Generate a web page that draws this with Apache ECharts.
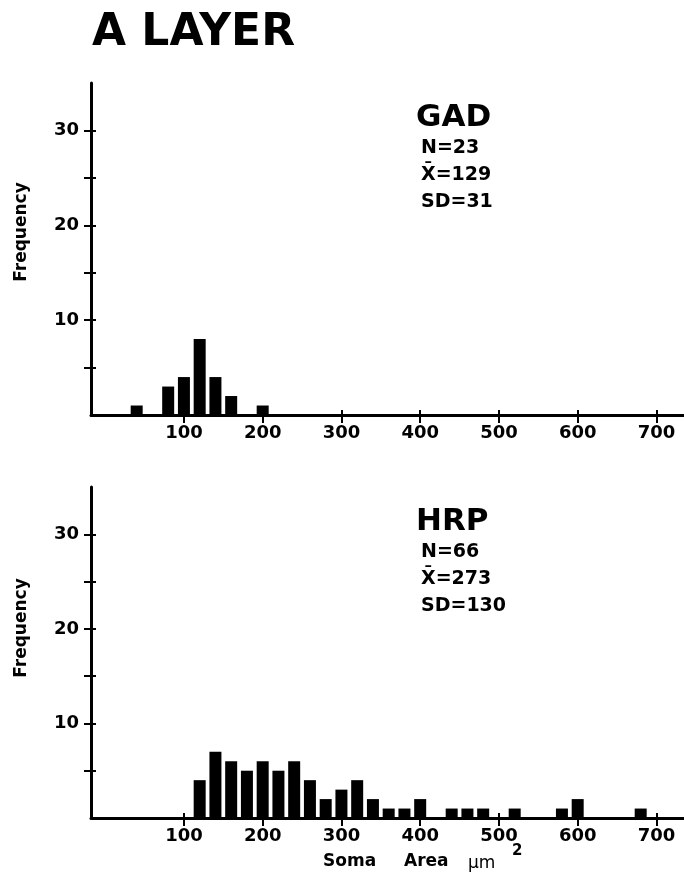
<!DOCTYPE html>
<html>
<head>
<meta charset="utf-8">
<script src="https://cdn.jsdelivr.net/npm/echarts@6/dist/echarts.min.js"></script>
<style>
  html, body { margin: 0; padding: 0; background: #fff; }
  #chart { width: 684px; height: 881px; }
</style>
</head>
<body>
<div id="chart"></div>
<script>
// bin centres (soma area, um^2) and counts
const gadBins   = [40, 80, 100, 120, 140, 160, 200];
const gadCounts = [1, 3, 4, 8, 4, 2, 1];
const hrpBins   = [120, 140, 160, 180, 200, 220, 240, 260, 280, 300, 320, 340, 360, 380, 400, 440, 460, 480, 520, 580, 600, 680];
const hrpCounts = [4, 7, 6, 5, 6, 5, 6, 4, 2, 3, 4, 2, 1, 1, 2, 1, 1, 1, 1, 1, 2, 1];

const xTicks  = [100, 200, 300, 400, 500, 600, 700];
const yTicks  = [5, 10, 15, 20, 25, 30];
const yLabels = [10, 20, 30];

const gadStats = ['N=23', 'X\u0304=129', 'SD=31'];
const hrpStats = ['N=66', 'X\u0304=273', 'SD=130'];

const FONT = 'DejaVu Sans';
const BLACK = '#000';

let chart = echarts.init(document.getElementById('chart'));

// each panel gets two x and two y axes: one draws ticks outward, the other inward,
// so the tick marks cross the axis line like in the original figure
function panelAxes(g) {
  let xs = [
    {
      type: 'value', gridIndex: g, position: 'bottom', min: -18, max: 735,
      axisLine: {onZero: false, lineStyle: {color: BLACK, width: 3}},
      axisTick: {customValues: xTicks, length: 8, lineStyle: {color: BLACK, width: 2}},
      axisLabel: {customValues: xTicks, color: BLACK, fontFamily: FONT, fontWeight: 'bold', fontSize: 18, margin: 9},
      splitLine: {show: false}
    },
    {
      type: 'value', gridIndex: g, position: 'bottom', min: -18, max: 735,
      axisLine: {show: false, onZero: false},
      axisTick: {show: true, customValues: xTicks, inside: true, length: 5, lineStyle: {color: BLACK, width: 2}},
      axisLabel: {show: false},
      splitLine: {show: false}
    }
  ];
  let ys = [
    {
      type: 'value', gridIndex: g, position: 'left', min: 0, max: 35,
      axisLine: {show: true, onZero: false, lineStyle: {color: BLACK, width: 3}},
      axisTick: {show: true, customValues: yTicks, length: 7, lineStyle: {color: BLACK, width: 2}},
      axisLabel: {customValues: yLabels, color: BLACK, fontFamily: FONT, fontWeight: 'bold', fontSize: 18, margin: 12},
      splitLine: {show: false}
    },
    {
      type: 'value', gridIndex: g, position: 'left', min: 0, max: 35,
      axisLine: {show: false, onZero: false},
      axisTick: {show: true, customValues: yTicks, inside: true, length: 5, lineStyle: {color: BLACK, width: 2}},
      axisLabel: {show: false},
      splitLine: {show: false}
    }
  ];
  return {xs, ys};
}

let gadAxes = panelAxes(0);
let hrpAxes = panelAxes(1);

function textEl(str, x, y, size, weight) {
  return {
    type: 'text', x: x, y: y,
    style: {text: str, fill: BLACK, font: (weight || 'bold') + ' ' + size + 'px "' + FONT + '"', textAlign: 'left', textVerticalAlign: 'middle'}
  };
}

function freqLabel(y) {
  return {
    type: 'text', x: 22, y: y, rotation: Math.PI / 2,
    style: {text: 'Frequency', fill: BLACK, font: 'bold 17px "' + FONT + '"', textAlign: 'center', textVerticalAlign: 'middle'}
  };
}

let graphics = [
  textEl('A LAYER', 92, 34, 44),
  textEl('GAD', 416, 118, 31),
  textEl('HRP', 416, 522, 31),
  freqLabel(232),
  freqLabel(628),
  textEl('Soma', 323, 862, 17),
  textEl('Area', 404, 862, 17),
  textEl('\u03bcm', 468, 864, 17, 'normal'),
  textEl('2', 512, 851, 15)
];
for (let i = 0; i < gadStats.length; i++) {
  graphics.push(textEl(gadStats[i], 421, 148 + i * 27, 19));
  graphics.push(textEl(hrpStats[i], 421, 552 + i * 27, 19));
}

let option = {
  backgroundColor: '#fff',
  animation: false,
  grid: [
    {left: 91, right: 0, top: 83, height: 332},
    {left: 91, right: 0, top: 487, height: 331}
  ],
  xAxis: gadAxes.xs.concat(hrpAxes.xs),
  yAxis: gadAxes.ys.concat(hrpAxes.ys),
  series: [
    {
      type: 'bar', xAxisIndex: 0, yAxisIndex: 0, barWidth: 12,
      itemStyle: {color: BLACK},
      data: gadBins.map((b, i) => [b, gadCounts[i]])
    },
    {
      type: 'bar', xAxisIndex: 2, yAxisIndex: 2, barWidth: 12,
      itemStyle: {color: BLACK},
      data: hrpBins.map((b, i) => [b, hrpCounts[i]])
    }
  ],
  graphic: graphics
};
chart.setOption(option);
</script>
</body>
</html>
